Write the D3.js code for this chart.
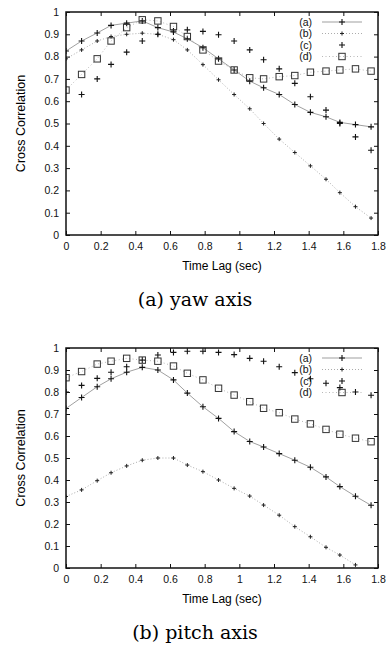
<!DOCTYPE html>
<html>
<head>
<meta charset="utf-8">
<script src="https://cdn.jsdelivr.net/npm/d3@7"></script>
<style>
  body { margin: 0; background: #fff; }
  svg { display: block; }
  .tick text { font-family: "Liberation Sans", Arial, sans-serif; font-size: 10.5px; fill: #111; }
  .tick line { stroke: #111; stroke-width: 1; }
</style>
</head>
<body>
<div id="chart"></div>
<script>
// time lag samples (sec), shared by both panels
const lag = [0, 0.09, 0.18, 0.26, 0.35, 0.44, 0.53, 0.62, 0.70, 0.79, 0.88, 0.97, 1.06, 1.14, 1.23, 1.32, 1.41, 1.50, 1.58, 1.67, 1.76];

const xTicks = [0, 0.2, 0.4, 0.6, 0.8, 1, 1.2, 1.4, 1.6, 1.8];
const yTicks = [0, 0.1, 0.2, 0.3, 0.4, 0.5, 0.6, 0.7, 0.8, 0.9, 1];
const seriesNames = ["(a)", "(b)", "(c)", "(d)"];

// (a) yaw axis
const yawA = [0.825, 0.87, 0.906, 0.94, 0.95, 0.96, 0.93, 0.91, 0.88, 0.84, 0.79, 0.74, 0.69, 0.66, 0.63, 0.585, 0.55, 0.53, 0.505, 0.495, 0.485];
const yawB = [0.79, 0.83, 0.87, 0.89, 0.90, 0.905, 0.90, 0.876, 0.83, 0.764, 0.696, 0.63, 0.566, 0.50, 0.43, 0.37, 0.31, 0.25, 0.19, 0.127, 0.076];
const yawC = [null, 0.63, 0.70, 0.765, 0.82, 0.87, 0.90, 0.915, 0.92, 0.913, 0.898, 0.87, 0.83, 0.786, 0.745, 0.68, 0.62, 0.56, 0.50, 0.44, 0.38];
const yawD = [0.65, 0.72, 0.79, 0.87, 0.93, 0.965, 0.96, 0.935, 0.89, 0.83, 0.78, 0.74, 0.705, 0.70, 0.71, 0.715, 0.73, 0.735, 0.74, 0.745, 0.735];

// (b) pitch axis
const pitchA = [0.725, 0.775, 0.824, 0.86, 0.89, 0.912, 0.90, 0.855, 0.795, 0.733, 0.68, 0.62, 0.575, 0.55, 0.52, 0.49, 0.458, 0.414, 0.37, 0.326, 0.285];
const pitchB = [0.325, 0.355, 0.397, 0.433, 0.464, 0.49, 0.50, 0.50, 0.468, 0.438, 0.40, 0.362, 0.327, 0.286, 0.24, 0.188, 0.142, 0.094, 0.059, 0.014, null];
const pitchC = [0.80, 0.83, 0.862, 0.89, 0.915, 0.945, 0.968, 0.98, 0.985, 0.985, 0.98, 0.97, 0.953, 0.94, 0.915, 0.888, 0.86, 0.84, 0.82, 0.80, 0.785];
const pitchD = [0.865, 0.893, 0.927, 0.94, 0.953, 0.945, 0.94, 0.918, 0.885, 0.855, 0.817, 0.786, 0.756, 0.726, 0.706, 0.677, 0.655, 0.63, 0.608, 0.59, 0.574];

const W = 388, H = 653;
const svg = d3.select("#chart").append("svg")
  .attr("width", W)
  .attr("height", H);

// line / marker style per series
const styles = [
  {line: true, dash: null, stroke: "#777", marker: "plus"},
  {line: true, dash: "1,2", stroke: "#888", marker: "small"},
  {line: false, dash: null, stroke: "#999", marker: "plus"},
  {line: true, dash: "1,2.5", stroke: "#999", marker: "square"}
];

function drawMarker(g, kind, x, y) {
  if (kind === "plus") {
    g.append("path")
      .attr("d", `M${x - 3},${y}H${x + 3}M${x},${y - 3}V${y + 3}`)
      .attr("stroke", "#111").attr("stroke-width", 1.1).attr("fill", "none");
  } else if (kind === "small") {
    g.append("path")
      .attr("d", `M${x - 2},${y}H${x + 2}M${x},${y - 2}V${y + 2}`)
      .attr("stroke", "#222").attr("stroke-width", 1).attr("fill", "none");
  } else {
    g.append("rect")
      .attr("x", x - 3.2).attr("y", y - 3.2)
      .attr("width", 6.4).attr("height", 6.4)
      .attr("fill", "none").attr("stroke", "#333").attr("stroke-width", 1);
  }
}

function drawPanel(top, bottom, series, caption) {
  const left = 66, right = 378;
  const x = d3.scaleLinear().domain([0, 1.8]).range([left, right]);
  const y = d3.scaleLinear().domain([0, 1]).range([bottom, top]);

  const g = svg.append("g");
  const plot = g.append("g");

  // clip so points below zero are cut like in gnuplot
  const clipId = "clip" + top;
  g.append("clipPath").attr("id", clipId)
    .append("rect").attr("x", left).attr("y", top).attr("width", right - left).attr("height", bottom - top);
  plot.attr("clip-path", `url(#${clipId})`);

  series.forEach((vals, i) => {
    const st = styles[i];
    const pts = lag.map((t, j) => [t, vals[j]]).filter(d => d[1] != null);
    if (st.line) {
      plot.append("path")
        .datum(pts)
        .attr("fill", "none")
        .attr("stroke", st.stroke)
        .attr("stroke-width", 0.7)
        .attr("stroke-dasharray", st.dash)
        .attr("d", d3.line().x(d => x(d[0])).y(d => y(d[1])));
    }
    pts.forEach(d => drawMarker(plot, st.marker, x(d[0]), y(d[1])));
  });

  // axes with inward ticks, mirrored on top/right
  const fmt = d3.format("~g");
  g.append("g").attr("transform", `translate(${left},0)`)
    .call(d3.axisLeft(y).tickValues(yTicks).tickFormat(fmt).tickSize(-4).tickPadding(7))
    .call(a => a.select(".domain").remove());
  g.append("g").attr("transform", `translate(${right},0)`)
    .call(d3.axisRight(y).tickValues(yTicks).tickFormat("").tickSize(-4))
    .call(a => a.select(".domain").remove());
  g.append("g").attr("transform", `translate(0,${bottom})`)
    .call(d3.axisBottom(x).tickValues(xTicks).tickFormat(fmt).tickSize(-4).tickPadding(8))
    .call(a => a.select(".domain").remove());
  g.append("g").attr("transform", `translate(0,${top})`)
    .call(d3.axisTop(x).tickValues(xTicks).tickFormat("").tickSize(-4))
    .call(a => a.select(".domain").remove());

  g.append("rect")
    .attr("x", left).attr("y", top)
    .attr("width", right - left).attr("height", bottom - top)
    .attr("fill", "none").attr("stroke", "#111").attr("stroke-width", 1.5);

  // legend
  const lg = g.append("g").attr("font-family", "Liberation Sans, Arial, sans-serif").attr("font-size", 10.5);
  seriesNames.forEach((name, i) => {
    const ly = top + 10 + i * 11.5;
    lg.append("text")
      .attr("x", 312).attr("y", ly).attr("dy", "0.35em")
      .attr("text-anchor", "end").attr("fill", "#111")
      .text(name);
    const st = styles[i];
    if (st.line) {
      lg.append("line")
        .attr("x1", 322).attr("x2", 362).attr("y1", ly).attr("y2", ly)
        .attr("stroke", st.stroke).attr("stroke-width", 0.7)
        .attr("stroke-dasharray", st.dash);
    }
    drawMarker(lg, st.marker, 342, ly);
  });

  // axis titles
  g.append("text")
    .attr("x", (left + right) / 2).attr("y", bottom + 35)
    .attr("text-anchor", "middle")
    .attr("font-family", "Liberation Sans, Arial, sans-serif").attr("font-size", 12)
    .text("Time Lag (sec)");

  g.append("text")
    .attr("transform", `translate(25,${(top + bottom) / 2}) rotate(-90)`)
    .attr("text-anchor", "middle")
    .attr("font-family", "Liberation Sans, Arial, sans-serif").attr("font-size", 12.5)
    .text("Cross Correlation");

  g.append("text")
    .attr("x", 195).attr("y", bottom + 71)
    .attr("text-anchor", "middle")
    .attr("font-family", "DejaVu Serif, serif").attr("font-size", 19)
    .text(caption);
}

drawPanel(12, 235, [yawA, yawB, yawC, yawD], "(a) yaw axis");
drawPanel(348, 568, [pitchA, pitchB, pitchC, pitchD], "(b) pitch axis");
</script>
</body>
</html>
